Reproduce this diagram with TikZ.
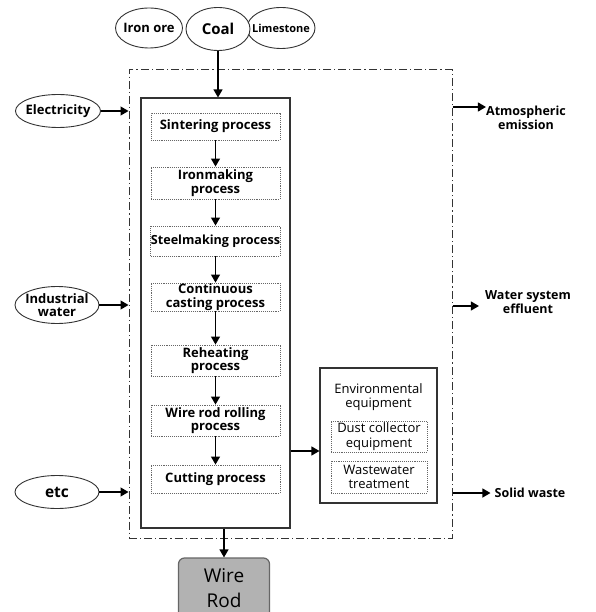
\documentclass[tikz,border=0pt]{standalone}
\usepackage{fontspec}
\setmainfont{Open Sans}
\usetikzlibrary{arrows.meta,shapes.geometric,positioning}
\begin{document}
\begin{tikzpicture}[x=1pt,y=-1pt,
  every node/.style={font=\bfseries\fontsize{13}{13.5}\selectfont, align=center, inner sep=0pt},
  oval/.style={ellipse, draw=black!80, line width=0.9pt, fill=white, inner xsep=-8pt, inner ysep=-6pt},
  procbox/.style={draw=black!60, densely dotted, line width=0.9pt, minimum width=129pt},
  arr/.style={-{Triangle[length=8pt,width=9pt]}, line width=1.2pt},
  frame/.style={draw=black!80, line width=1.1pt},
  envtext/.style={font=\mdseries\fontsize{13}{14.5}\selectfont},
  outtext/.style={font=\bfseries\fontsize{12.5}{14.5}\selectfont},
  dashdot/.style={draw=black!80, line width=1pt, dash pattern=on 8pt off 3pt on 1.2pt off 3pt}
]
\useasboundingbox (0,0) rectangle (595,612);
% dash-dot system boundary
\node[dashdot, rectangle, minimum width=323pt, minimum height=468pt] (sys) at (290.5,304) {};
% inputs
\node[oval, minimum width=67pt, minimum height=40pt] (iron) at (149,28) {Iron ore};
\node[oval, minimum width=68pt, minimum height=41pt, font=\bfseries\fontsize{11}{11}\selectfont] (lime) at (281,28) {Limestone};
\node[oval, minimum width=64pt, minimum height=43pt, font=\bfseries\fontsize{15}{15}\selectfont] (coal) at (218,29) {Coal};
\node[oval, minimum width=85pt, minimum height=33pt] (elec) at (58,111) {Electricity};
\node[oval, minimum width=84pt, minimum height=37pt] (indw) at (57,305) {Industrial\\water};
\node[oval, minimum width=84pt, minimum height=33pt, font=\bfseries\fontsize{15.5}{16}\selectfont] (etc) at (57,492) {etc};
% main process frame
\node[frame, rectangle, minimum width=149pt, minimum height=430pt] (main) at (215.5,313) {};
% processes
\node[procbox, minimum height=27pt] (p1) at (215.5,126.5) {Sintering process};
\node[procbox, minimum height=32pt] (p2) at (215.5,183) {Ironmaking\\process};
\node[procbox, minimum height=30pt, font=\bfseries\fontsize{12.6}{13.5}\selectfont] (p3) at (215.5,241) {Steelmaking process};
\node[procbox, minimum height=28pt] (p4) at (215.5,297) {Continuous\\casting process};
\node[procbox, minimum height=31pt] (p5) at (215.5,360.5) {Reheating\\process};
\node[procbox, minimum height=31pt] (p6) at (215.5,420.5) {Wire rod rolling\\process};
\node[procbox, minimum height=28pt] (p7) at (215.5,479) {Cutting process};
\foreach \a/\b in {p1/p2,p2/p3,p3/p4,p4/p5,p5/p6,p6/p7}
  \draw[arr] (\a.south) -- (\b.north);
% environmental equipment
\node[frame, rectangle, minimum width=117pt, minimum height=135pt] (env) at (378.5,435.5) {};
\node[envtext] (envt) at (378.5,397) {Environmental\\equipment};
\node[procbox, envtext, minimum width=96pt, minimum height=31pt] (dust) at (379,436.5) {Dust collector\\equipment};
\node[procbox, envtext, minimum width=96pt, minimum height=32pt] (wwt) at (379,477) {Wastewater\\treatment};
\coordinate (envy) at (290,451);
\draw[arr] (main.east |- envy) -- (env.west |- envy);
% outputs
\node[outtext] (atm) at (526,118) {Atmospheric\\emission};
\node[outtext] (wse) at (528,302) {Water system\\effluent};
\node[outtext] (sw) at (530,493) {Solid waste};
\coordinate (atmy) at (452,107);
\coordinate (wsey) at (452,306);
\coordinate (swy) at (452,493);
\draw[arr] (sys.east |- atmy) -- (atm.west |- atmy);
\draw[arr] (sys.east |- wsey) -- ([xshift=-6pt]wse.west |- wsey);
\draw[arr] (sys.east |- swy) -- ([xshift=-4pt]sw.west |- swy);
% input arrows
\draw[arr] (coal.south) -- (coal.south |- main.north);
\draw[arr] (elec.east) -- (sys.west |- elec.east);
\draw[arr] (indw.east) -- (sys.west |- indw.east);
\draw[arr] (etc.east) -- (sys.west |- etc.east);
% product
\node[draw=black!60, fill=black!30, line width=1.2pt, rounded corners=6pt, minimum width=91pt, minimum height=60pt, font=\mdseries\fontsize{19}{25}\selectfont] (rod) at (224,588) {Wire\\Rod};
\draw[arr] (main.south -| rod.north) -- (rod.north);
\end{tikzpicture}
\end{document}
